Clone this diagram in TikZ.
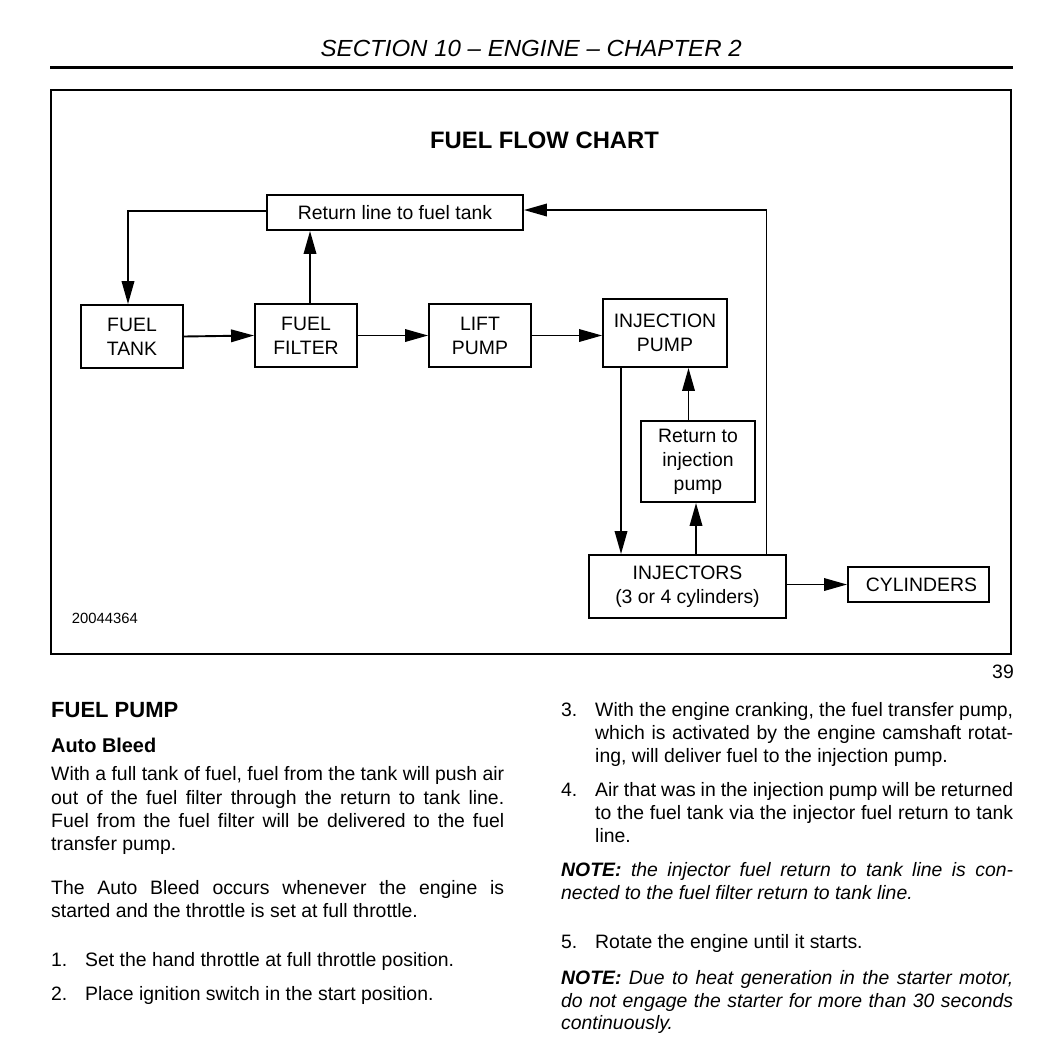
\documentclass[tikz,border=0pt]{standalone}
\usepackage{fontspec}
\setmainfont{Liberation Sans}
\usepackage{graphicx}
\usetikzlibrary{arrows.meta}
\newcommand\bxfont{\fontsize{19.4pt}{24pt}\selectfont}
\newcommand\bdfont{\fontsize{19.4pt}{23.3pt}\selectfont}
\newcommand\rtfont{\fontsize{19.4pt}{22.8pt}\selectfont}
\tikzset{
  box/.style={draw, line width=1.9pt, inner sep=0pt, align=center, font=\bxfont},
  flow/.style={line width=1.9pt, -{Triangle[length=23pt,width=12.5pt]}},
  body/.style={anchor=base west, inner sep=0pt, font=\bdfont},
  lpara/.style={body, align=justify},
  rpara/.style={body, align=justify, font=\rtfont},
}
\begin{document}
\hyphenpenalty=10000
\tolerance=9999
\begin{tikzpicture}[x=1pt,y=-1pt]
\useasboundingbox (0,0) rectangle (1063,1060);
\fill[white] (0,0) rectangle (1063,1060);

% header
\node[anchor=base, inner sep=0pt, font=\fontsize{23.3pt}{28pt}\selectfont\itshape] (hdr) at (531.2,56.7)
  {\resizebox{421pt}{\height}{SECTION 10 – ENGINE – CHAPTER 2}};
\draw[line width=2.2pt] (50,67.5) -- (1013,67.5);

% frame
\draw[line width=1.7pt] (51,90) rectangle (1011,654);
\node[anchor=base, inner sep=0pt, font=\bfseries\fontsize{23.8pt}{28pt}\selectfont] (title) at (544.5,148.3) {FUEL FLOW CHART};
\node[anchor=base west, inner sep=0pt, font=\fontsize{14.8pt}{18pt}\selectfont] (fig) at (71.7,623.3) {20044364};
\node[anchor=base east, inner sep=0pt, font=\fontsize{19.4pt}{23pt}\selectfont] (num) at (1014,678.3) {39};

% boxes
\node[box, minimum width=256pt, minimum height=35pt] (ret) at (395,212.5) {Return line to fuel tank};
\node[box, minimum width=102pt, minimum height=63pt] (tank) at (132,336.5) {FUEL\\TANK};
\node[box, minimum width=102pt, minimum height=63pt] (filter) at (306,335.5) {FUEL\\FILTER};
\node[box, minimum width=102pt, minimum height=63pt] (lift) at (480,335.5) {LIFT\\PUMP};
\node[box, minimum width=124pt, minimum height=68pt] (injp) at (665,333) {INJECTION\\PUMP};
\node[box, minimum width=114pt, minimum height=81pt] (rti) at (698,461.5) {Return to\\injection\\pump};
\node[box, minimum width=197pt, minimum height=63pt] (inj) at (687.5,586.5) {INJECTORS\\(3 or 4 cylinders)};
\node[box, minimum width=141pt, minimum height=35pt] (cyl) at (918.5,584.5) {\hspace*{6pt}CYLINDERS};

% connectors
\draw[flow] ([yshift=1.5pt]ret.west) -| ([xshift=-4pt]tank.north);
\draw[flow] ([xshift=4pt]filter.north) -- ([xshift=4pt]filter.north |- ret.south);
\draw[flow] (tank.east) -- (filter.west);
\draw[flow] (filter.east) -- (lift.west);
\draw[flow] (lift.east) -- (lift.east -| injp.west);
\draw[flow] ([xshift=-44pt]injp.south) -- ([xshift=-44pt]injp.south |- inj.north);
\draw[flow] ([xshift=8.5pt]inj.north) -- ([xshift=8.5pt]inj.north |- rti.south);
\draw[flow] ([xshift=-9.5pt]rti.north) -- ([xshift=-9.5pt]rti.north |- injp.south);
\draw[flow] ([xshift=79pt]inj.north) |- ([yshift=2.5pt]ret.east);
\draw[flow] (inj.east |- cyl.west) -- (cyl.west);

% left column
\node[body, font=\bfseries\fontsize{22pt}{26pt}\selectfont] (h1) at (51,717.3) {FUEL PUMP};
\node[body, font=\bfseries\fontsize{19.9pt}{24pt}\selectfont] (h2) at (51,752.3) {Auto Bleed};
\node[lpara, text width=453pt] (p1) at (51,780.7) {With a full tank of fuel, fuel from the tank will push air\linebreak out of the fuel filter through the return to tank line.\linebreak Fuel from the fuel filter will be delivered to the fuel\linebreak transfer pump.};
\node[lpara, text width=453pt] (p2) at (51,894) {The Auto Bleed occurs whenever the engine is\linebreak started and the throttle is set at full throttle.};
\node[body] (n1) at (51,966) {1.};
\node[body] (t1) at (85,966) {Set the hand throttle at full throttle position.};
\node[body] (n2) at (51,1000) {2.};
\node[body] (t2) at (85,1000) {Place ignition switch in the start position.};

% right column
\node[body] (n3) at (561,716.7) {3.};
\node[rpara, text width=418pt] (t3) at (595,716.7) {With the engine cranking, the fuel transfer pump,\linebreak which is activated by the engine camshaft rotat-\linebreak ing, will deliver fuel to the injection pump.};
\node[body] (n4) at (561,796.7) {4.};
\node[rpara, text width=418pt] (t4) at (595,796.7) {Air that was in the injection pump will be returned\linebreak to the fuel tank via the injector fuel return to tank\linebreak line.};
\node[rpara, text width=452pt] (note1) at (561,876.7) {\itshape{\bfseries NOTE:} the injector fuel return to tank line is con-\linebreak nected to the fuel filter return to tank line.};
\node[body] (n5) at (561,948.3) {5.};
\node[body] (t5) at (595,948.3) {Rotate the engine until it starts.};
\node[rpara, text width=452pt] (note2) at (561,984.3) {\itshape{\bfseries NOTE:} Due to heat generation in the starter motor,\linebreak do not engage the starter for more than 30 seconds\linebreak continuously.};
\end{tikzpicture}
\end{document}
